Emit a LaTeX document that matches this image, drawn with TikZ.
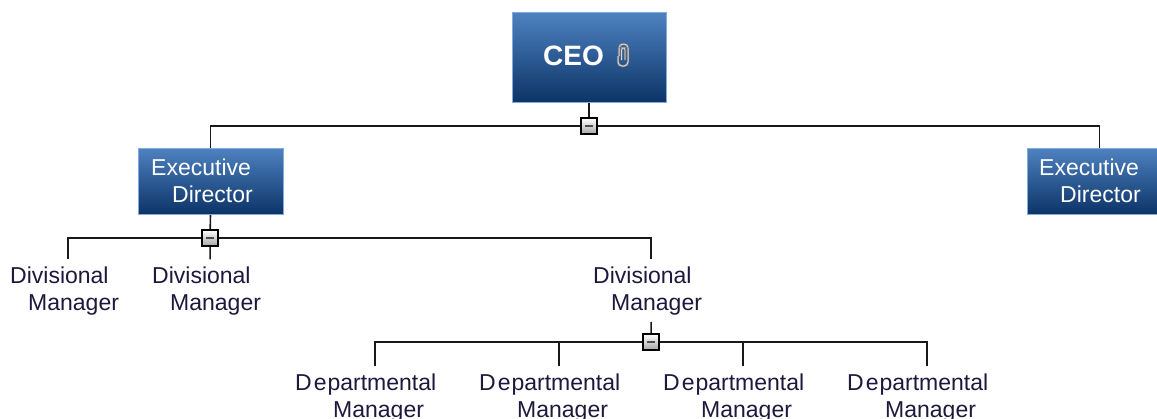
\documentclass[tikz,border=0pt]{standalone}
\usepackage{fontspec}
\setmainfont{Liberation Sans}
\definecolor{boxtop}{RGB}{78,130,192}
\definecolor{boxbot}{RGB}{12,52,104}
\definecolor{boxedge}{RGB}{130,170,220}
\definecolor{lblcol}{RGB}{30,24,60}
\definecolor{linecol}{RGB}{25,25,25}
\pgfdeclarelayer{bg}
\pgfsetlayers{bg,main}
\begin{document}
\begin{tikzpicture}[x=1pt,y=-1pt,
  box/.style={draw=boxedge, line width=1pt, top color=boxtop, bottom color=boxbot, inner sep=0pt},
  boxtext/.style={text=white, font=\fontsize{23}{27}\selectfont, align=left, inner sep=0pt, anchor=base west},
  lbl/.style={text=lblcol, font=\fontsize{23}{27}\selectfont, align=left, inner sep=0pt, outer ysep=7pt, anchor=base west},
  toggle/.style={draw=black, line width=1.4pt, minimum size=16pt, inner sep=0pt, top color=white, bottom color=black!35},
  conn/.style={draw=linecol, line width=1.6pt},
  minusbar/.style={fill=black!70}]
\useasboundingbox (0,0) rectangle (1157,418);
\clip (0,0) rectangle (1157,418);

% boxes
\node[box, minimum width=154pt, minimum height=90pt] (ceo) at (589,57) {};
\node[text=white, font=\fontsize{28}{32}\selectfont\bfseries, anchor=base west, inner sep=0pt] (ceot) at (543,65) {CEO};
\draw[black!55, line width=2.2pt, rounded corners=4pt] (619,56) -- (619,44) -- (628,44) -- (628,66) -- (618,66) -- (618,56);
\draw[white!85!black, line width=1pt, rounded corners=4pt] (619,56) -- (619,44) -- (628,44) -- (628,66) -- (618,66) -- (618,56);
\draw[black!55, line width=2pt, rounded corners=2pt] (621.5,60) -- (621.5,48) -- (625,48) -- (625,60);
\draw[white!85!black, line width=0.8pt, rounded corners=2pt] (621.5,60) -- (621.5,48) -- (625,48) -- (625,60);

\node[box, minimum width=145pt, minimum height=66pt] (ed1) at (210.5,181) {};
\node[boxtext] (ed1t) at (151,202) {Executive\\\hspace*{21pt}Director};
\node[box, minimum width=145pt, minimum height=66pt] (ed2) at (1099.5,181) {};
\node[boxtext] (ed2t) at (1039,202) {Executive\\\hspace*{21pt}Director};

% toggles
\node[toggle] (m1) at (589,126) {};
\node[toggle] (m2) at (210,238) {};
\node[toggle] (m3) at (651,342) {};

% labels
\node[lbl] (dm1) at (10,310) {Divisional\\\hspace*{18pt}Manager};
\node[lbl] (dm2) at (152,310) {Divisional\\\hspace*{18pt}Manager};
\node[lbl] (dm3) at (593,310) {Divisional\\\hspace*{18pt}Manager};
\node[lbl] (dp1) at (295,417) {D\kern2pt e\kern1pt partmental\\\hspace*{38pt}Manager};
\node[lbl] (dp2) at (479,417) {D\kern2pt e\kern1pt partmental\\\hspace*{38pt}Manager};
\node[lbl] (dp3) at (663,417) {D\kern2pt e\kern1pt partmental\\\hspace*{38pt}Manager};
\node[lbl] (dp4) at (847,417) {D\kern2pt e\kern1pt partmental\\\hspace*{38pt}Manager};

% connectors
\begin{pgfonlayer}{bg}
\draw[conn] (ceo.south) -- (m1.center);
\draw[conn] (m1.center) -| (ed1.north);
\draw[conn] (m1.center) -| (ed2.north);
\draw[conn] (ed1.south) -- (m2.center);
\draw[conn] (m2.center) -| ([xshift=3.6pt]dm1.north);
\draw[conn] (m2.center) -- ([xshift=3.6pt]dm2.north);
\draw[conn] (m2.center) -| ([xshift=3.6pt]dm3.north);
\draw[conn] ([xshift=3.6pt]dm3.south) -- (m3.center);
\draw[conn] (m3.center) -| ([xshift=9pt]dp1.north);
\draw[conn] (m3.center) -| ([xshift=9pt]dp2.north);
\draw[conn] (m3.center) -| ([xshift=9pt]dp3.north);
\draw[conn] (m3.center) -| ([xshift=9pt]dp4.north);
\end{pgfonlayer}

% minus marks
\foreach \m in {m1,m2,m3}
  \fill[minusbar] ([xshift=-4pt,yshift=-1pt]\m.center) rectangle ([xshift=4pt,yshift=1pt]\m.center);
\end{tikzpicture}
\end{document}
